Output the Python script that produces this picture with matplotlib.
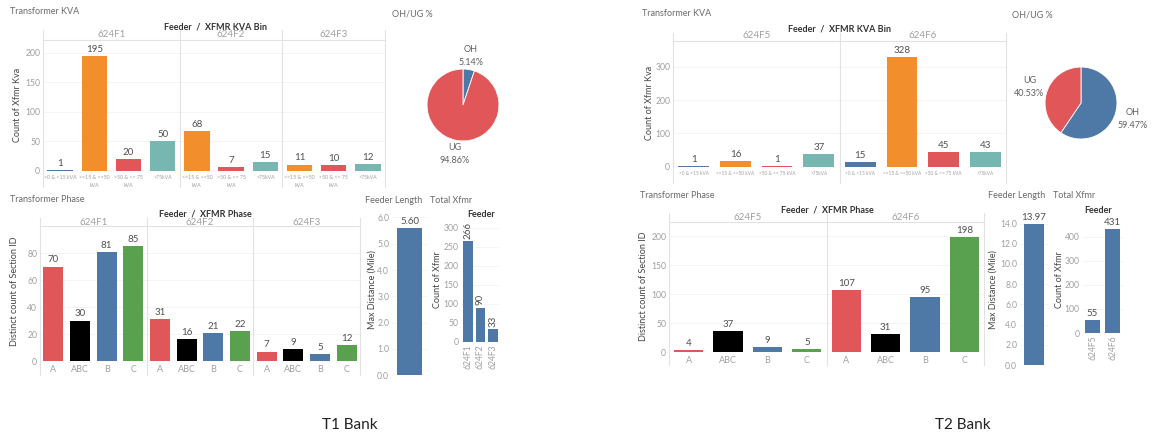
import matplotlib
matplotlib.use("Agg")
import matplotlib.pyplot as plt
from matplotlib.transforms import blended_transform_factory

plt.rcParams['font.family'] = ['Lato', 'DejaVu Sans']

W, H = 1153, 436

# data
kva_bins_t1 = [">0 & <15 kVA", ">=15 & <=50\nkVA", ">50 & <= 75\nkVA", ">75kVA"]
kva_bins_t2 = [">0 & <15 kVA", ">=15 & <=50 kVA", ">50 & <= 75 kVA", ">75kVA"]
phases = ["A", "ABC", "B", "C"]
pie_labels = ["OH", "UG"]

t1_feeders = ["624F1", "624F2", "624F3"]
t1_kva_counts = [[1, 195, 20, 50], [None, 68, 7, 15], [None, 11, 10, 12]]
t1_phase_counts = [[70, 30, 81, 85], [31, 16, 21, 22], [7, 9, 5, 12]]
t1_oh_ug = [5.14, 94.86]
t1_length = 5.60
t1_total = [266, 90, 33]

t2_feeders = ["624F5", "624F6"]
t2_kva_counts = [[1, 16, 1, 37], [15, 328, 45, 43]]
t2_phase_counts = [[4, 37, 9, 5], [107, 31, 95, 198]]
t2_oh_ug = [59.47, 40.53]
t2_length = 13.97
t2_total = [55, 431]

kva_colors = ["#4e79a7", "#f28e2b", "#e15759", "#76b7b2"]
phase_colors = ["#e15759", "#000000", "#4e79a7", "#59a14f"]
pie_colors = ["#4e79a7", "#e15759"]

TICK = "#a0a0a0"
VAL = "#505050"
TITLE = "#6a6a6a"
LINE = "#e2e2e2"

fig = plt.figure(figsize=(W / 100, H / 100), dpi=100)


def box(x0, y0, x1, y1):
    return fig.add_axes([x0 / W, 1 - y1 / H, (x1 - x0) / W, (y1 - y0) / H])


def ftext(x, y, s, **kw):
    kw.setdefault("fontsize", 6.5)
    kw.setdefault("color", TITLE)
    fig.text(x / W, 1 - y / H, s, **kw)


def style(ax, ymax, yticks, fmt="{:g}"):
    ax.set_ylim(0, ymax)
    ax.set_yticks(yticks)
    ax.set_yticklabels([fmt.format(t) for t in yticks])
    for s in ax.spines.values():
        s.set_visible(False)
    ax.tick_params(length=0, labelsize=6.2, labelcolor=TICK, pad=2)
    ax.grid(axis="y", color="#f3f3f3", lw=0.6)
    ax.set_axisbelow(True)
    ax.axhline(0, color="#dcdcdc", lw=0.8, zorder=1)


def facet(ax, feeders, counts, labels, colors, ymax, yticks, hpx, hdr_px, top_px, bot_px, xsize):
    x = 0
    ticks, ticklabels, bounds = [], [], []
    for vals in counts:
        start = x
        for lab, v, c in zip(labels, vals, colors):
            if v is None:
                continue
            ax.bar(x, v, width=0.74, color=c, zorder=2)
            ax.annotate(str(v), (x, v), xytext=(0, 1.5), textcoords="offset points",
                        ha="center", va="bottom", fontsize=7, color=VAL)
            ticks.append(x)
            ticklabels.append(lab)
            x += 1
        bounds.append((start - 0.5, x - 0.5))
    ax.set_xlim(-0.5, x - 0.5)
    style(ax, ymax, yticks)
    ax.set_xticks(ticks)
    ax.set_xticklabels(ticklabels, fontsize=xsize, color=TICK, linespacing=1.6)
    ax.tick_params(axis="x", pad=3)
    tr = blended_transform_factory(ax.transData, ax.transAxes)
    for f, (a, b) in zip(feeders, bounds):
        ax.text((a + b) / 2, 1 + hdr_px / hpx, f, transform=tr, ha="center", va="center",
                fontsize=7, color=TICK)
    edges = [bounds[0][0]] + [b for _, b in bounds]
    for e in edges:
        ax.plot([e, e], [-bot_px / hpx, 1 + top_px / hpx], transform=tr, color=LINE,
                lw=0.8, clip_on=False)
    ax.plot([-0.5, x - 0.5], [1, 1], transform=tr, color=LINE, lw=0.8, clip_on=False)


def single(ax, value, ymax, yticks):
    ax.bar(0, value, width=0.72, color="#4e79a7", zorder=2)
    ax.annotate(f"{value:.2f}", (0, value), xytext=(0, 1.5), textcoords="offset points",
                ha="center", va="bottom", fontsize=7, color=VAL)
    ax.set_xlim(-0.5, 0.5)
    style(ax, ymax, yticks, "{:.1f}")
    ax.set_xticks([])


def totals(ax, feeders, vals, ymax, yticks, rotate):
    xs = list(range(len(vals)))
    ax.bar(xs, vals, width=0.78, color="#4e79a7", zorder=2)
    for x, v in zip(xs, vals):
        ax.annotate(str(v), (x, v), xytext=(0, 1.5), textcoords="offset points",
                    ha="center", va="bottom", fontsize=7, color=VAL,
                    rotation=90 if rotate else 0)
    ax.set_xlim(-0.5, len(vals) - 0.5)
    style(ax, ymax, yticks)
    ax.set_xticks(xs)
    ax.set_xticklabels(feeders, rotation=90, fontsize=6.2, color=TICK)


def pie(ax, shares, dist):
    wedges, texts = ax.pie(shares, colors=pie_colors, startangle=90, counterclock=False,
                           labels=[f"{l}\n{s:.2f}%" for l, s in zip(pie_labels, shares)],
                           labeldistance=dist, wedgeprops=dict(linewidth=0.6, edgecolor="white"),
                           textprops=dict(fontsize=6.5, color="#606060"))
    for t in texts:
        t.set_ha("center")
        t.set_linespacing(1.5)
    ax.set_xlim(-1.39, 1.39)
    ax.set_ylim(-1.39, 1.39)
    ax.set_aspect("equal")
    ax.axis("off")


# ---------------- T1 Bank ----------------
ftext(10, 12, "Transformer KVA", va="center")
ftext(215, 27, "Feeder  /  XFMR KVA Bin", ha="center", va="center", color="#333333", fontweight="bold")
ax = box(43, 40, 385, 171)
facet(ax, t1_feeders, t1_kva_counts, kva_bins_t1, kva_colors, 222, [0, 50, 100, 150, 200],
      131, 5, 10, 16, 3.8)
ftext(18, 105, "Count of Xfmr Kva", rotation=90, ha="center", va="center", color="#444444")

ftext(392, 14, "OH/UG %", va="center")
pie(box(413, 55, 513, 155), t1_oh_ug, 1.38)

ftext(10, 199, "Transformer Phase", va="center")
ftext(205, 214, "Feeder  /  XFMR Phase", ha="center", va="center", color="#333333", fontweight="bold")
ax = box(40, 226, 360, 361)
facet(ax, t1_feeders, t1_phase_counts, phases, phase_colors, 100, [0, 20, 40, 60, 80],
      135, 4, 8, 14, 6.5)
ftext(15, 291, "Distinct count of Section ID", rotation=90, ha="center", va="center", color="#444444")

ftext(365, 200, "Feeder Length", va="center")
single(box(392, 207, 427, 375), t1_length, 6.4, [0, 1, 2, 3, 4, 5, 6])
ftext(372, 290, "Max Distance (Mile)", rotation=90, ha="center", va="center", color="#444444")

ftext(430, 200, "Total Xfmr", va="center")
ftext(481, 214, "Feeder", ha="center", va="center", color="#333333", fontweight="bold")
totals(box(461.5, 222, 499.5, 341.7), t1_feeders, t1_total, 315, [0, 50, 100, 150, 200, 250, 300], True)
ftext(437, 280, "Count of Xfmr", rotation=90, ha="center", va="center", color="#444444")

ftext(350, 425, "T1 Bank", ha="center", va="center", fontsize=11, color="#222222")

# ---------------- T2 Bank ----------------
ftext(642, 14, "Transformer KVA", va="center")
ftext(840, 29, "Feeder  /  XFMR KVA Bin", ha="center", va="center", color="#333333", fontweight="bold")
ax = box(673, 41, 1006, 166.7)
facet(ax, t2_feeders, t2_kva_counts, kva_bins_t2, kva_colors, 377, [0, 100, 200, 300],
      125.7, 5, 8, 16, 3.4)
ftext(650, 103, "Count of Xfmr Kva", rotation=90, ha="center", va="center", color="#444444")

ftext(1012, 15, "OH/UG %", va="center")
pie(box(1031, 53, 1131, 153), t2_oh_ug, 1.5)

ftext(640, 196, "Transformer Phase", va="center")
ftext(827, 210, "Feeder  /  XFMR Phase", ha="center", va="center", color="#333333", fontweight="bold")
ax = box(669, 222, 984, 352.3)
facet(ax, t2_feeders, t2_phase_counts, phases, phase_colors, 224.7, [0, 50, 100, 150, 200],
      130.3, 5, 9, 13, 6.5)
ftext(644, 286, "Distinct count of Section ID", rotation=90, ha="center", va="center", color="#444444")

ftext(988, 196, "Feeder Length", va="center")
single(box(1020, 219, 1048, 365), t2_length, 14.45, [0, 2, 4, 6, 8, 10, 12, 14])
ftext(993, 290, "Max Distance (Mile)", rotation=90, ha="center", va="center", color="#444444")

ftext(1053, 196, "Total Xfmr", va="center")
ftext(1098, 210, "Feeder", ha="center", va="center", color="#333333", fontweight="bold")
totals(box(1082.5, 222, 1122.5, 333), t2_feeders, t2_total, 462, [0, 100, 200, 300, 400], False)
ftext(1060, 280, "Count of Xfmr", rotation=90, ha="center", va="center", color="#444444")

ftext(963, 425, "T2 Bank", ha="center", va="center", fontsize=11, color="#222222")

fig.savefig("out.png", dpi=100, facecolor="white")
